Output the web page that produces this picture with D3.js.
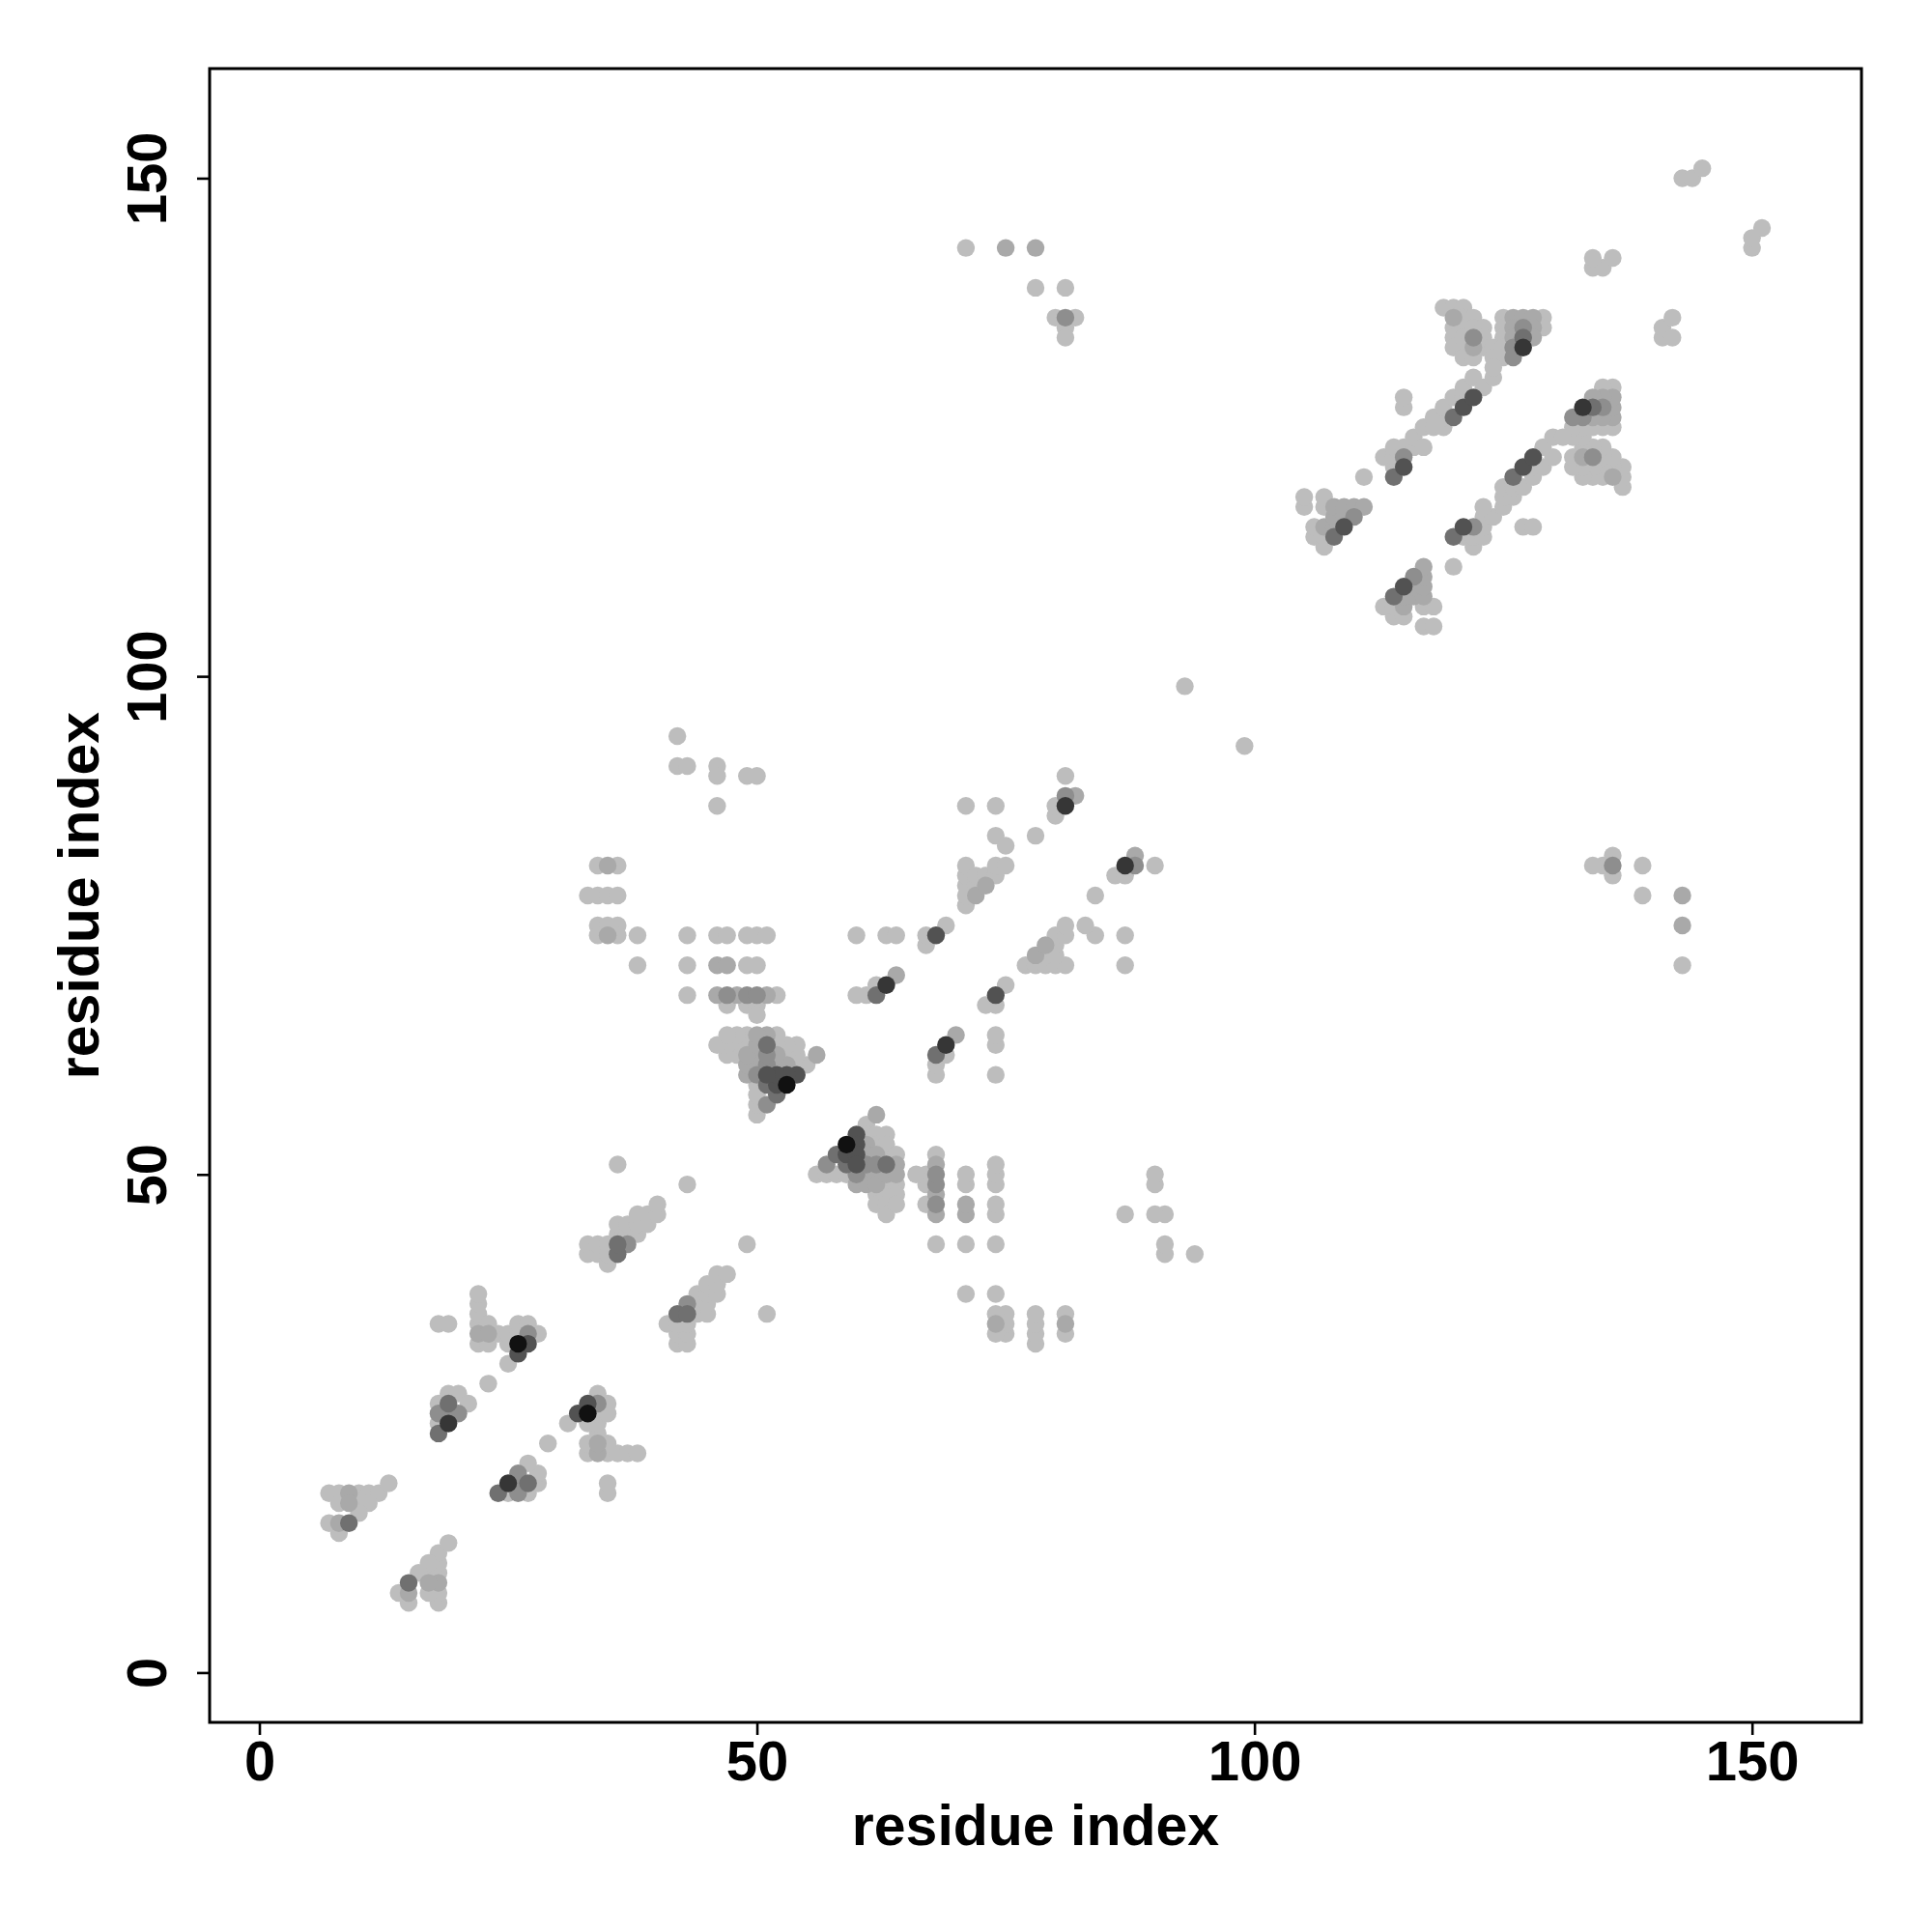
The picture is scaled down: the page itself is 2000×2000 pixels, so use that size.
<!DOCTYPE html>
<html><head><meta charset="utf-8">
<script src="https://cdn.jsdelivr.net/npm/d3@7"></script>
<style>body{margin:0;background:#fff}</style>
</head><body>
<script>
// contact pairs [i, j, shade level 1..7] for i<j; the map is symmetric
const contactsNTerm = [
 [7,18,1],[8,18,1],[9,18,2],[10,18,1],[11,18,1],[12,18,1],[13,19,1],
 [8,17,1],[9,17,2],[10,17,1],[11,17,1],[10,16,1],
 [7,15,1],[8,15,2],[9,15,4],[8,14,1],
 [18,24,4],[18,25,1],[18,26,3],[18,27,1],[19,25,6],[19,26,3],[19,27,4],[19,28,1],
 [20,26,3],[20,28,1],[21,27,1],[23,29,1],[18,35,1],[19,35,1],
 [22,33,1],[22,34,2],[22,35,1],[22,36,1],[22,37,1],[22,38,1],
 [23,33,1],[23,34,2],[23,35,1],[24,34,1],[25,31,1],[25,33,1],[25,34,1],
 [26,32,5],[26,33,7],[26,34,1],[26,35,1],[27,33,5],[27,34,3],[27,35,1],[28,34,1],
 [33,42,1],[33,43,1],[34,42,1],[34,43,1],[35,41,1],[35,42,1],[35,43,1],
 [36,42,4],[36,43,4],[36,44,1],[36,45,1],[37,43,3],[37,44,1],[37,45,1],
 [38,44,1],[38,45,1],[38,46,1],[39,45,1],[39,46,1],[40,46,1],[40,47,1],
 [36,51,1],[43,49,1]
];
const contactsMiddle = [
 [34,81,1],[35,81,2],[36,81,1],[33,78,1],[34,78,1],[35,78,1],[36,78,1],
 [34,75,1],[35,75,1],[36,75,1],[34,74,1],[35,74,2],[36,74,1],[38,74,1],[38,71,1],
 [42,94,1],[42,91,1],[43,91,1],[46,91,1],[46,90,1],[49,90,1],[50,90,1],[46,87,1],
 [43,74,1],[46,74,1],[47,74,1],[49,74,1],[50,74,1],[51,74,1],
 [43,71,1],[46,71,2],[47,71,2],[49,71,1],[50,71,1],
 [43,68,1],[46,68,2],[47,68,3],[48,68,2],[49,68,3],[50,68,3],[51,68,2],[52,68,1],
 [47,67,1],[49,67,1],[50,67,1],[50,66,1],
 [50,56,1],[51,57,3],[50,57,1],[52,58,4],[50,58,1],[53,59,7],[52,59,5],[51,59,4],[50,59,1],
 [54,60,5],[53,60,5],[52,60,5],[51,60,5],[50,60,3],[49,60,2],
 [55,61,1],[54,61,1],[53,61,2],[52,61,2],[51,61,3],[50,61,2],[49,61,2],
 [56,62,2],[54,62,1],[53,62,1],[52,62,2],[51,62,3],[50,62,2],[49,62,2],[48,62,1],[47,62,1],
 [54,63,1],[53,63,1],[52,63,1],[51,63,4],[50,63,2],[49,63,1],[48,63,1],[47,63,1],[46,63,1],
 [52,64,1],[51,64,2],[50,64,2],[49,64,1],[48,64,1],[47,64,1],
 [60,68,1],[61,68,1],[62,68,4],[62,69,1],[63,69,6],[64,70,2],[60,74,1],[63,74,1],[64,74,1],
 [67,73,1],[67,74,1],[68,74,5],[69,75,1],
 [71,77,1],[71,78,1],[71,79,1],[71,80,1],[71,81,1],[72,78,2],[72,79,1],[72,80,1],
 [73,79,2],[73,80,1],[74,80,1],[74,81,1],[75,81,1],
 [74,84,1],[75,83,1],[78,84,1],[71,87,1],[74,87,1],
 [80,86,1],[80,87,1],[81,87,6],[81,88,3],[82,88,2],[81,90,1],[93,99,1]
];
const contactsCTerm = [
 [105,117,1],[105,118,1],[106,114,1],[106,115,1],[107,113,1],[107,114,1],[107,115,2],
 [107,117,1],[107,118,1],[108,114,4],[108,115,2],[108,116,2],[108,117,2],
 [109,115,5],[109,116,2],[109,117,2],[110,116,3],[110,117,2],[111,117,2],[111,120,1],
 [113,122,1],[114,120,4],[114,121,1],[114,122,1],[114,123,1],[115,121,5],[115,122,3],
 [115,123,1],[116,123,1],[116,124,1],[117,123,1],[117,125,1],[118,125,1],[118,126,1],
 [119,125,1],[119,126,1],[119,127,1],[120,126,4],[121,127,5],[122,128,5],[120,128,1],
 [121,128,1],[121,129,1],[122,130,1],[123,129,1],[124,130,1],[115,127,1],[115,128,1],
 [119,137,1],[120,137,1],[121,137,1],
 [120,136,2],[121,136,1],[122,136,1],[125,136,1],[126,136,2],[127,136,2],[128,136,2],[129,136,1],
 [120,135,1],[121,135,1],[122,135,1],[123,135,1],[125,135,1],[126,135,2],[127,135,3],[128,135,2],[129,135,1],
 [120,134,1],[121,134,1],[122,134,3],[123,134,1],[125,134,1],[126,134,2],[127,134,4],[128,134,2],
 [120,133,1],[121,133,1],[122,133,2],[123,133,1],[124,133,1],[125,133,1],[126,133,3],[127,133,6],
 [121,132,1],[122,132,1],[124,132,1],[125,132,1],[126,132,3],[124,131,1],
 [134,141,1],[135,141,1],[134,142,1],[136,142,1],
 [143,150,1],[144,150,1],[145,151,1],
 [71,143,1],[75,143,2],[78,143,2],[78,139,1],[81,139,1],
 [80,136,1],[81,136,3],[82,136,1],[81,135,1],[81,134,1]
];
const grayShades = ["#bdbdbd","#a9a9a9","#8e8e8e","#707070","#525252","#363636","#111111"];
const tickValues = [0, 50, 100, 150];
const axisTitle = "residue index";

const W = 2000, H = 2000;
const svg = d3.select("body").append("svg").attr("width", W).attr("height", H)
  .style("background", "#fff");
const x = d3.scaleLinear().domain([-5, 161]).range([217, 1927]);
const y = d3.scaleLinear().domain([-5, 161]).range([1783, 71]);

// assemble symmetric point list
const pairs = [];
const seen = new Set();
[contactsNTerm, contactsMiddle, contactsCTerm].forEach(arr => arr.forEach(([i, j, l]) => {
  const a = Math.min(i, j), b = Math.max(i, j);
  const k = a + "_" + b;
  if (seen.has(k)) return; seen.add(k);
  pairs.push({px: a, py: b, l});
  pairs.push({px: b, py: a, l});
}));
pairs.sort((p, q) => p.l - q.l);

svg.append("g").selectAll("circle").data(pairs).join("circle")
  .attr("cx", d => x(d.px)).attr("cy", d => y(d.py)).attr("r", 9.2)
  .attr("fill", d => grayShades[d.l - 1]);

// box
svg.append("rect").attr("x", 217).attr("y", 71).attr("width", 1710).attr("height", 1712)
  .attr("fill", "none").attr("stroke", "#000").attr("stroke-width", 3);

const font = "'Liberation Sans', Arial, Helvetica, sans-serif";
const gx = svg.append("g").attr("transform", "translate(0,1783)")
  .call(d3.axisBottom(x).tickValues(tickValues).tickSize(13).tickFormat(d3.format("d")));
gx.select(".domain").remove();
gx.selectAll("line").attr("stroke", "#000").attr("stroke-width", 2.6);
gx.selectAll("text").attr("y", 60).attr("dy", 0).attr("fill", "#000")
  .style("font-family", font).style("font-weight", "bold").style("font-size", "58px");

const gy = svg.append("g").attr("transform", "translate(217,0)")
  .call(d3.axisLeft(y).tickValues(tickValues).tickSize(13).tickFormat(d3.format("d")));
gy.select(".domain").remove();
gy.selectAll("line").attr("stroke", "#000").attr("stroke-width", 2.6);
gy.selectAll("text").attr("transform", "rotate(-90)").attr("x", 0).attr("y", -45).attr("dy", 0)
  .attr("text-anchor", "middle").attr("fill", "#000")
  .style("font-family", font).style("font-weight", "bold").style("font-size", "58px");

svg.append("text").attr("x", 1072).attr("y", 1910).attr("text-anchor", "middle")
  .style("font-family", font).style("font-weight", "bold").style("font-size", "59px")
  .text(axisTitle);
svg.append("text").attr("transform", "translate(102,927) rotate(-90)").attr("text-anchor", "middle")
  .style("font-family", font).style("font-weight", "bold").style("font-size", "59px")
  .text(axisTitle);
</script>
</body></html>
